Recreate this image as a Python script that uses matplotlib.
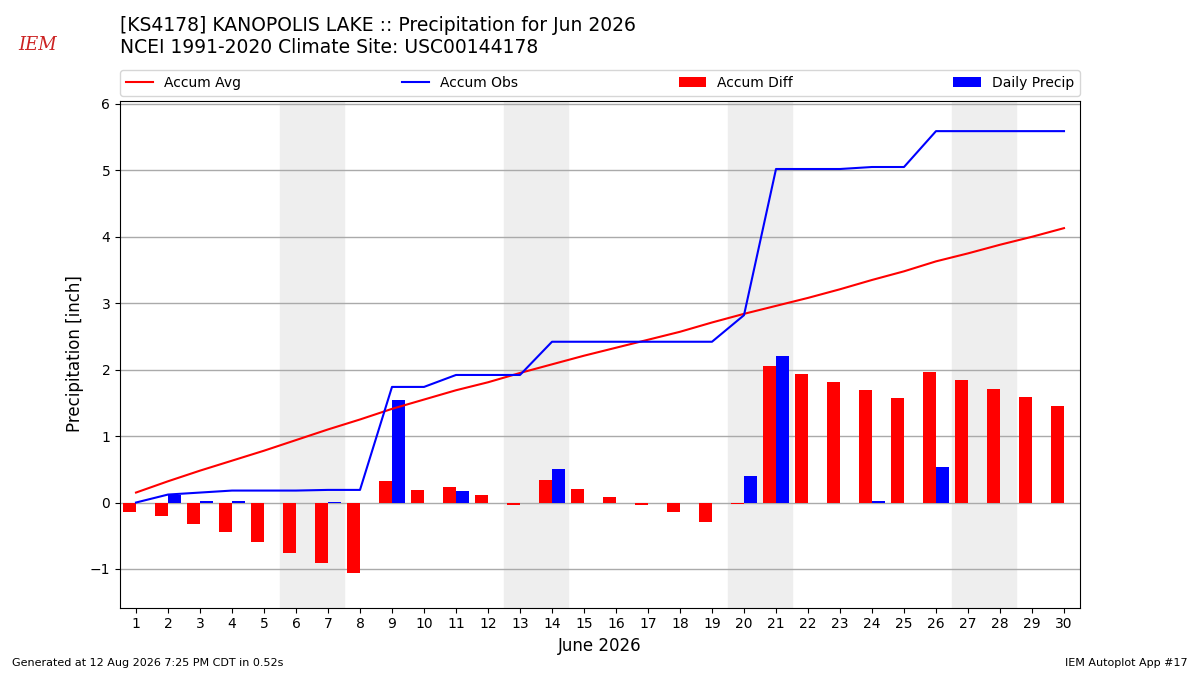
import numpy as np
import matplotlib
matplotlib.use("Agg")
import matplotlib.pyplot as plt

# ---------------------------------------------------------
# DATA
# ---------------------------------------------------------
days = np.arange(1, 31)

daily_precip = [0.00, 0.12, 0.03, 0.03, 0.00, 0.00, 0.01, 0.00, 1.55, 0.00,
                0.18, 0.00, 0.00, 0.50, 0.00, 0.00, 0.00, 0.00, 0.00, 0.40,
                2.20, 0.00, 0.00, 0.03, 0.00, 0.54, 0.00, 0.00, 0.00, 0.00]

accum_avg = [0.15, 0.32, 0.48, 0.63, 0.78, 0.94, 1.10, 1.25, 1.41, 1.55,
             1.69, 1.81, 1.95, 2.08, 2.21, 2.33, 2.45, 2.57, 2.71, 2.84,
             2.96, 3.08, 3.21, 3.35, 3.48, 3.63, 3.75, 3.88, 4.00, 4.13]

weekends = [(6, 7), (13, 14), (20, 21), (27, 28)]

accum_obs = np.cumsum(daily_precip)
accum_diff = accum_obs - np.array(accum_avg)

# ---------------------------------------------------------
# PLOT
# ---------------------------------------------------------
fig = plt.figure(figsize=(12, 6.75), dpi=100)
ax = fig.add_axes([0.1, 0.1, 0.8, 0.751])

for start, end in weekends:
    ax.axvspan(start - 0.5, end + 0.5, color="#EEEEEE", zorder=0)

ax.plot(days, accum_avg, color="red", linewidth=1.5, label="Accum Avg", zorder=3)
ax.plot(days, accum_obs, color="blue", linewidth=1.5, label="Accum Obs", zorder=3)
ax.bar(days, accum_diff, width=-0.4, align="edge", color="red",
       label="Accum Diff", zorder=2)
ax.bar(days, daily_precip, width=0.4, align="edge", color="blue",
       label="Daily Precip", zorder=2)

ax.set_xlim(0.5, 30.5)
ax.set_ylim(-1.58, 6.05)
ax.set_xticks(days)
ax.set_yticks(range(-1, 7))
ax.grid(True, axis="y", color="#AAAAAA", linewidth=1)
ax.set_axisbelow(True)
ax.set_xlabel("June 2026", fontsize=12)
ax.set_ylabel("Precipitation [inch]", fontsize=12)

ax.legend(loc="lower left", bbox_to_anchor=(0, 1.01, 1, 0.05), ncol=4,
          mode="expand", borderaxespad=0, fontsize=10)

fig.text(0.1, 0.915, "[KS4178] KANOPOLIS LAKE :: Precipitation for Jun 2026\n"
         "NCEI 1991-2020 Climate Site: USC00144178",
         fontsize=13.5, va="bottom", ha="left")

fig.text(0.031, 0.934, "IEM", color="#cc2222", fontsize=13,
         fontstyle="italic", family="serif", ha="center", va="center")

fig.text(0.01, 0.013, "Generated at 12 Aug 2026 7:25 PM CDT in 0.52s", fontsize=8)
fig.text(0.99, 0.013, "IEM Autoplot App #17", fontsize=8, ha="right")

fig.savefig("out.png", dpi=100)
